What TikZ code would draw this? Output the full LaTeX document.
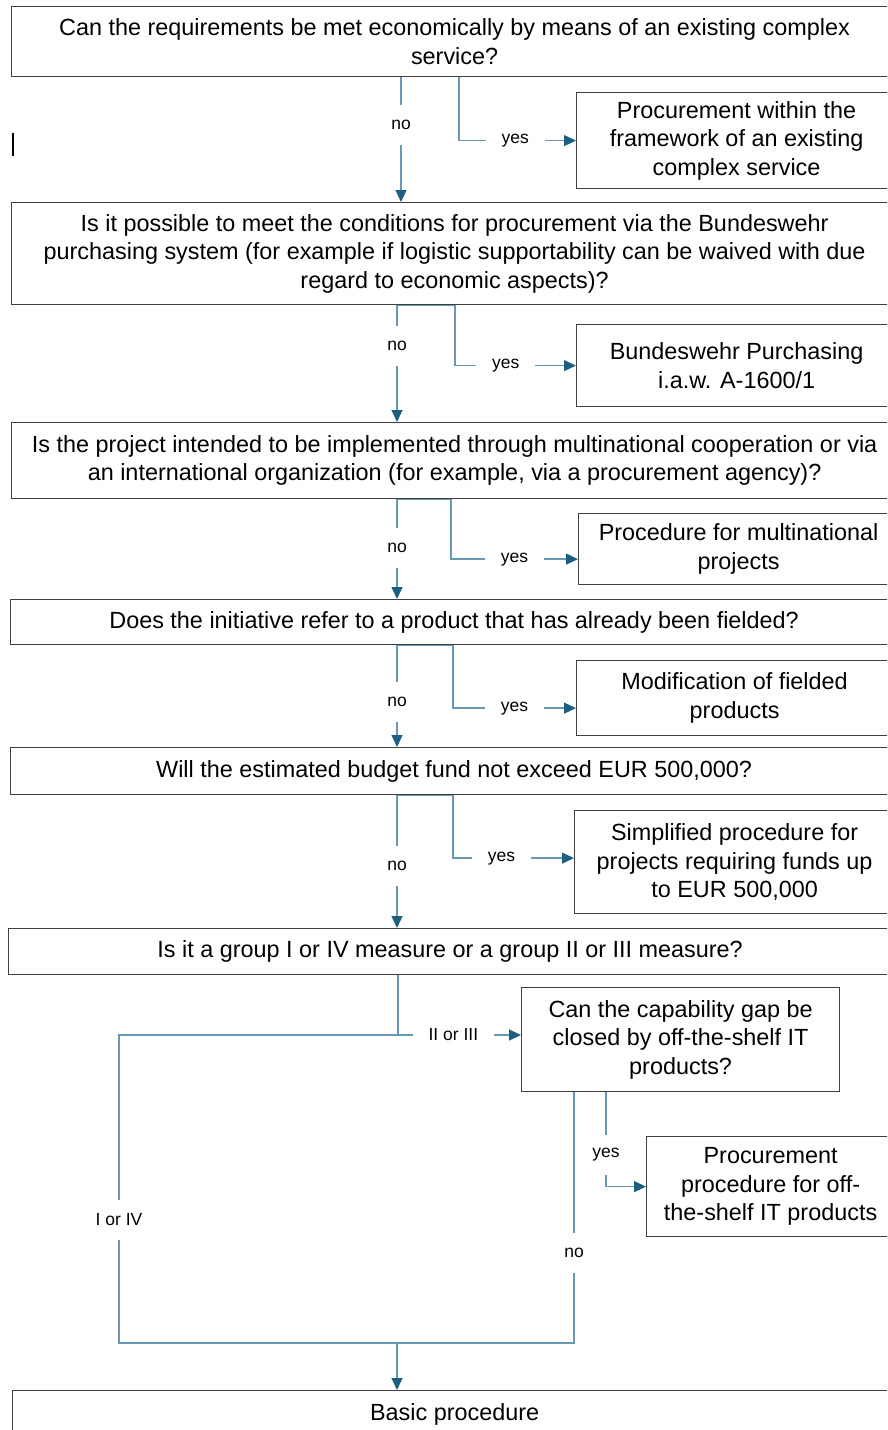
\documentclass[tikz,border=0pt]{standalone}
\usepackage{fontspec}
\setmainfont{Liberation Sans}
\usetikzlibrary{arrows.meta,calc}
\definecolor{connc}{RGB}{104,152,182}
\definecolor{tipc}{RGB}{28,95,128}
\definecolor{boxc}{RGB}{64,64,64}
\tikzset{
  box/.style={draw=boxc, line width=1.2pt, fill=white, anchor=north west,
    align=center, inner sep=0pt, font=\fontsize{23.4}{28.6}\selectfont},
  conn/.style={draw=connc, line width=1.3pt},
  arr/.style={conn, -{Triangle[length=12pt,width=11pt,color=tipc]}},
  vlab/.style={fill=white, font=\fontsize{17.5}{20}\selectfont,
    inner xsep=1pt, inner ysep=0pt, minimum height=40pt},
  hlab/.style={fill=white, font=\fontsize{17.5}{20}\selectfont,
    inner xsep=16pt, inner ysep=2pt},
}
\begin{document}
\begin{tikzpicture}[x=1pt,y=-1pt]
\useasboundingbox (0,0) rectangle (887,1430);
\clip (0,0) rectangle (887,1430);

% decision boxes (full width) and outcome boxes (right column)
\node[box, minimum width=886pt, minimum height=70pt] (q1) at (11,6)
  {Can the requirements be met economically by means of an existing complex\\service?};
\node[box, minimum width=320pt, minimum height=96pt] (s1) at (576,92)
  {Procurement within the\\framework of an existing\\complex service};

\node[box, minimum width=886pt, minimum height=102pt] (q2) at (11,202)
  {Is it possible to meet the conditions for procurement via the Bundeswehr\\purchasing system (for example if logistic supportability can be waived with due\\regard to economic aspects)?};
\node[box, minimum width=320pt, minimum height=82pt] (s2) at (576,324)
  {Bundeswehr Purchasing\\i.a.w. A-1600/1};

\node[box, minimum width=886pt, minimum height=76pt] (q3) at (11,422)
  {Is the project intended to be implemented through multinational cooperation or via\\an international organization (for example, via a procurement agency)?};
\node[box, minimum width=320pt, minimum height=71pt] (s3) at (578,513)
  {Procedure for multinational\\projects};

\node[box, minimum width=887pt, minimum height=45pt] (q4) at (10,599)
  {Does the initiative refer to a product that has already been fielded?};
\node[box, minimum width=316pt, minimum height=75pt] (s4) at (576,660)
  {Modification of fielded\\products};

\node[box, minimum width=887pt, minimum height=47pt] (q5) at (10,747)
  {Will the estimated budget fund not exceed EUR 500,000?};
\node[box, minimum width=320pt, minimum height=103pt] (s5) at (574,810)
  {Simplified procedure for\\projects requiring funds up\\to EUR 500,000};

\node[box, minimum width=883pt, minimum height=46pt] (q6) at (8,928)
  {Is it a group I or IV measure or a group II or III measure?};
\node[box, minimum width=318pt, minimum height=104pt] (cap) at (521,987)
  {Can the capability gap be\\closed by off-the-shelf IT\\products?};
\node[box, minimum width=248pt, minimum height=100pt] (s6) at (646,1136)
  {Procurement\\procedure for off-\\the-shelf IT products};

\node[box, minimum width=884pt, minimum height=48pt] (basic) at (12,1390)
  {Basic procedure};

% columns and junctions of the connectors
\coordinate (n1) at (401,0);
\coordinate (y1) at (459,0);
\coordinate (nx) at (397,0);
\coordinate (y2) at (455,0);
\coordinate (y3) at (451,0);
\coordinate (y4) at (453,0);
\coordinate (y5) at (453,0);
\coordinate (j6) at (398,1035);
\coordinate (lb) at (119,1343);
\coordinate (rt) at (574,1091);
\coordinate (rb) at (574,1343);
\coordinate (mrg) at (397,1343);
\coordinate (cy) at (606,0);

% step 1
\draw[arr] (q1.south -| n1) -- (q2.north -| n1) node[vlab,pos=0.38] (no1) {no};
\draw[arr] (q1.south -| y1) |- (s1.west) node[hlab,pos=0.74] (ye1) {yes};

% step 2
\draw[arr] (q2.south -| nx) -- (q3.north -| nx) node[vlab,pos=0.35] (no2) {no};
\draw[arr] (q2.south -| nx) -- (q2.south -| y2) |- (s2.west) node[hlab,pos=0.71] (ye2) {yes};

% step 3
\draw[arr] (q3.south -| nx) -- (q4.north -| nx) node[vlab,pos=0.49] (no3) {no};
\draw[arr] (q3.south -| nx) -- (q3.south -| y3) |- ([yshift=-10pt]s3.west) node[hlab,pos=0.75] (ye3) {yes};

% step 4
\draw[arr] (q4.south -| nx) -- (q5.north -| nx) node[vlab,pos=0.56] (no4) {no};
\draw[arr] (q4.south -| nx) -- (q4.south -| y4) |- ([yshift=-10pt]s4.west) node[hlab,pos=0.75] (ye4) {yes};

% step 5
\draw[arr] (q5.south -| nx) -- (q6.north -| nx) node[vlab,pos=0.53] (no5) {no};
\draw[arr] (q5.south -| nx) -- (q5.south -| y5) |- ([yshift=4pt]s5.west) node[hlab,pos=0.70] (ye5) {yes};

% step 6: measure groups
\draw[conn] (q6.south -| j6) -- (j6);
\draw[arr] (j6) -- (j6 -| cap.west) node[hlab,pos=0.45] (g23) {II or III};
\draw[conn] (j6) -| (lb) node[vlab,pos=0.80] (g14) {I or IV} -- (mrg);
\draw[conn] (cap.south -| rt) -- (rb) node[vlab,pos=0.64] (no6) {no} -- (mrg);
\draw[arr] (cap.south -| cy) |- (s6.west) node[vlab,pos=0.33] (ye6) {yes};
\draw[arr] (mrg) -- (basic.north -| mrg);

% thin vertical mark at the left margin
\draw[line width=1.6pt] (13,133) -- (13,156);
\end{tikzpicture}
\end{document}
